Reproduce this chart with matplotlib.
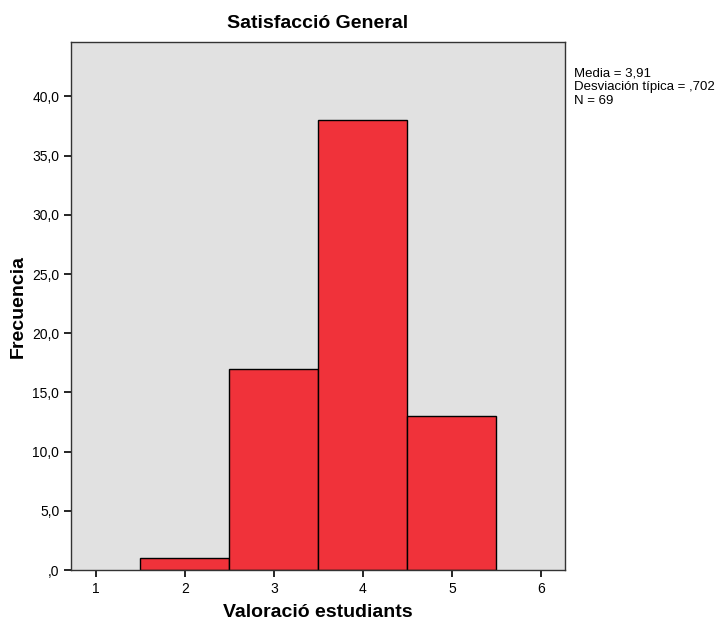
import matplotlib.pyplot as plt
from matplotlib.ticker import FuncFormatter

plt.rcParams['font.family'] = ['Liberation Sans', 'DejaVu Sans']

valors = [2, 3, 4, 5]
freq = [1, 17, 38, 13]
x_ticks = [1, 2, 3, 4, 5, 6]
y_ticks = [0, 5, 10, 15, 20, 25, 30, 35, 40]

fig = plt.figure(figsize=(7.17, 6.23), dpi=100)
ax = fig.add_axes([71 / 717, 53 / 623, 494 / 717, 528 / 623])
ax.set_facecolor('#e1e1e1')

ax.bar(valors, freq, width=1.0, color='#f0323a', edgecolor='black', linewidth=1.0)

ax.set_xlim(0.72, 6.27)
ax.set_ylim(0, 44.6)
ax.set_xticks(x_ticks)
ax.set_yticks(y_ticks)


def fmt(v, pos):
    if v == 0:
        return ',0'
    return f'{v:.1f}'.replace('.', ',')


ax.yaxis.set_major_formatter(FuncFormatter(fmt))
ax.tick_params(axis='both', labelsize=10, length=5, width=1.2, direction='out', color='black')

for s in ax.spines.values():
    s.set_linewidth(1.0)
    s.set_color('#333333')

ax.set_title('Satisfacció General', fontsize=14, fontweight='bold', pad=10)
ax.set_xlabel('Valoració estudiants', fontsize=14, fontweight='bold', va='center')
ax.set_ylabel('Frecuencia', fontsize=14, fontweight='bold', va='center')
ax.xaxis.set_label_coords(0.5, -0.081)
ax.yaxis.set_label_coords(-0.107, 0.5)

fig.text(574 / 717, 1 - 68 / 623, 'Media = 3,91\nDesviación típica = ,702\nN = 69',
         fontsize=9.5, va='top', ha='left', linespacing=1.15)

fig.savefig('out.png', dpi=100)
